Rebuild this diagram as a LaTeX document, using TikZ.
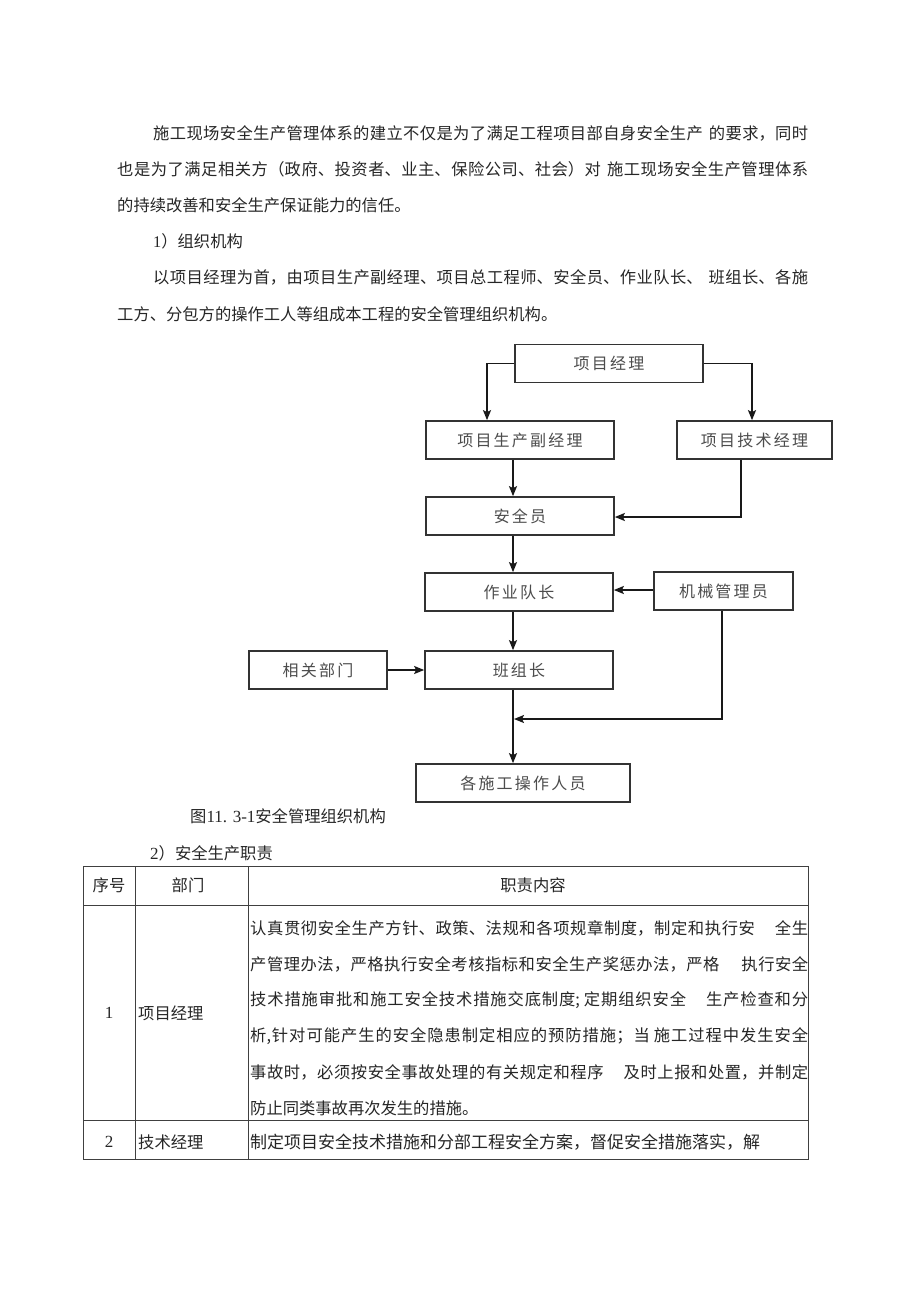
\documentclass[tikz,border=0pt]{standalone}
\usepackage{fontspec}
\setmainfont{Noto Sans CJK SC}
\newfontfamily\boxfont[LetterSpace=14]{Noto Sans CJK SC}
\newfontfamily\latfont{Liberation Serif}
\usetikzlibrary{arrows.meta}
\XeTeXlinebreaklocale "zh"
\XeTeXlinebreakskip=0pt plus 4pt
\newcommand\jl[2]{\parbox{#1}{\parfillskip=0pt\relax #2\par}}
\tikzset{
  txt/.style={inner sep=0pt, anchor=west, text=black!85, font=\fontsize{16.3}{18}\selectfont},
  orgbox/.style={draw=black!80, line width=1.7pt, inner sep=0pt, text=black!70, font=\boxfont\fontsize{16}{18}\selectfont},
  arr/.style={draw=black!90, line width=1.7pt, -{Stealth[length=10pt,width=8pt,inset=2pt]}},
  tline/.style={draw=black!75, line width=0.9pt}
}
\begin{document}
\begin{tikzpicture}[x=1pt,y=-1pt]
\useasboundingbox[fill=white] (0,0) rectangle (920,1301);

% paragraph
\node[txt] (p1) at (153,133) {\jl{655pt}{施工现场安全生产管理体系的建立不仅是为了满足工程项目部自身安全生产\hspace{6pt}的要求，同时}};
\node[txt] (p2) at (117,169) {\jl{691pt}{也是为了满足相关方（政府、投资者、业主、保险公司、社会）对\hspace{6pt}施工现场安全生产管理体系}};
\node[txt] (p3) at (117,205) {的持续改善和安全生产保证能力的信任。};
\node[txt] (p4) at (153,241) {{\latfont 1}）组织机构};
\node[txt] (p5) at (153,277) {\jl{655pt}{以项目经理为首，由项目生产副经理、项目总工程师、安全员、作业队长、\hspace{6pt}班组长、各施}};
\node[txt] (p6) at (117,314) {工方、分包方的操作工人等组成本工程的安全管理组织机构。};

% org chart boxes
\node[orgbox, minimum width=188pt, minimum height=38pt] (pm) at (609,363.5) {项目经理};
\node[orgbox, minimum width=188pt, minimum height=38pt] (pd) at (520,440) {项目生产副经理};
\node[orgbox, minimum width=155pt, minimum height=38pt] (pt) at (754.5,440) {项目技术经理};
\node[orgbox, minimum width=188pt, minimum height=38pt] (sf) at (520,516) {安全员};
\node[orgbox, minimum width=188pt, minimum height=38pt] (tm) at (519,592) {作业队长};
\node[orgbox, minimum width=139pt, minimum height=38pt] (mc) at (723.5,591) {机械管理员};
\node[orgbox, minimum width=188pt, minimum height=38pt] (gr) at (519,670) {班组长};
\node[orgbox, minimum width=138pt, minimum height=38pt] (dp) at (318,670) {相关部门};
\node[orgbox, minimum width=214pt, minimum height=38pt] (op) at (523,783) {各施工操作人员};

% connectors
\coordinate (c1) at (487,363.5);
\draw[arr] (pm.west) -- (c1) -- (c1 |- pd.north);
\coordinate (c2) at (752,363.5);
\draw[arr] (pm.east) -- (c2) -- (c2 |- pt.north);
\coordinate (c3) at (513,0);
\draw[arr] (c3 |- pd.south) -- (c3 |- sf.north);
\coordinate (c4) at (741,517);
\draw[arr] (c4 |- pt.south) -- (c4) -- (c4 -| sf.east);
\draw[arr] (c3 |- sf.south) -- (c3 |- tm.north);
\draw[arr] (mc.west |- 0,590) -- (tm.east |- 0,590);
\draw[arr] (c3 |- tm.south) -- (c3 |- gr.north);
\draw[arr] (dp.east) -- (gr.west);
\draw[arr] (c3 |- gr.south) -- (c3 |- op.north);
\coordinate (c5) at (722,719);
\coordinate (c6) at (514,719);
\draw[arr] (c5 |- mc.south) -- (c5) -- (c6);

% caption
\node[txt] (cap) at (190,816) {图{\latfont\fontsize{17}{18}\selectfont 11. 3-1}安全管理组织机构};
\node[txt] (sec2) at (150,853) {{\latfont\fontsize{17}{18}\selectfont 2}）安全生产职责};

% table
\draw[tline] (83,866) rectangle (808,1159);
\draw[tline] (83,905) -- (808,905);
\draw[tline] (83,1120) -- (808,1120);
\draw[tline] (135,866) -- (135,1159);
\draw[tline] (248,866) -- (248,1159);

\node[txt, anchor=center] (h1) at (109,885) {序号};
\node[txt, anchor=center] (h2) at (188,885) {部门};
\node[txt, anchor=center] (h3) at (533,885) {职责内容};

\node[txt, anchor=center] (n1) at (109,1013) {\latfont\fontsize{17}{18}\selectfont 1};
\node[txt] (d1) at (138,1013) {项目经理};
\node[txt, anchor=center] (n2) at (109,1142) {\latfont\fontsize{17}{18}\selectfont 2};
\node[txt] (d2) at (138,1142) {技术经理};

\node[txt] (r1) at (250,928) {\jl{558pt}{认真贯彻安全生产方针、政策、法规和各项规章制度，制定和执行安\hspace{20pt}全生}};
\node[txt] (r2) at (250,964) {\jl{558pt}{产管理办法，严格执行安全考核指标和安全生产奖惩办法，严格\hspace{22pt}执行安全}};
\node[txt] (r3) at (250,1000) {\jl{558pt}{技术措施审批和施工安全技术措施交底制度;\hspace{4pt}定期组织安全\hspace{20pt}生产检查和分}};
\node[txt] (r4) at (250,1036) {\jl{558pt}{析,针对可能产生的安全隐患制定相应的预防措施；当\hspace{4pt}施工过程中发生安全}};
\node[txt] (r5) at (250,1072) {\jl{558pt}{事故时，必须按安全事故处理的有关规定和程序\hspace{20pt}及时上报和处置，并制定}};
\node[txt] (r6) at (250,1108) {防止同类事故再次发生的措施。};
\node[txt] (r7) at (250,1142) {{\fontsize{17}{18}\selectfont 制定项目安全技术措施和分部工程安全方案，督促安全措施落实，解}};
\end{tikzpicture}
\end{document}
